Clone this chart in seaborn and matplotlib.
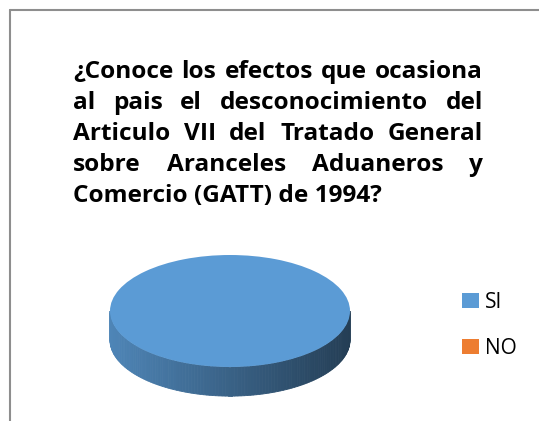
import numpy as np
import matplotlib
matplotlib.use('Agg')
import matplotlib.pyplot as plt
import seaborn as sns
from matplotlib.lines import Line2D

# Datos
categorias = ['SI', 'NO']
valores = [100, 0]
colores = ['#5B9BD5', '#ED7D31']

titulo_lineas = [
    '¿Conoce los efectos que ocasiona',
    'al pais el desconocimiento del',
    'Articulo VII del Tratado General',
    'sobre Aranceles Aduaneros y',
    'Comercio (GATT) de 1994?',
]

sns.set_style('white')
plt.rcParams['font.family'] = ['Open Sans', 'DejaVu Sans']
plt.rcParams['text.color'] = 'black'

W, H = 539, 421
fig = plt.figure(figsize=(W / 100, H / 100), dpi=100)
fig.patch.set_facecolor('white')

# Borde del gráfico (arriba e izquierda)
borde = dict(color='#8E8E8E', lw=1.5, transform=fig.transFigure)
fig.add_artist(Line2D([10 / W, 1], [1 - 9.5 / H, 1 - 9.5 / H], **borde))
fig.add_artist(Line2D([10 / W, 10 / W], [0, 1 - 9.5 / H], **borde))

# Título justificado
renderer = fig.canvas.get_renderer()
x_izq, x_der = 73, 483
y_base = [78, 109, 140, 171, 202]
tam = 17.6


def ancho(txt, size):
    t = fig.text(0, 0, txt, fontsize=size, fontweight='bold')
    w = t.get_window_extent(renderer).width
    t.remove()
    return w


for i, linea in enumerate(titulo_lineas):
    y = 1 - y_base[i] / H
    palabras = linea.split(' ')
    if i == len(titulo_lineas) - 1:
        fig.text(x_izq / W, y, linea, fontsize=tam, fontweight='bold',
                 va='baseline', ha='left')
        continue
    anchos = [ancho(p, tam) for p in palabras]
    hueco = (x_der - x_izq - sum(anchos)) / (len(palabras) - 1)
    x = x_izq
    for p, w in zip(palabras, anchos):
        fig.text(x / W, y, p, fontsize=tam, fontweight='bold',
                 va='baseline', ha='left')
        x += w + hueco

# Gráfico circular 3D
cx, cy = 230, 421 - 311
rx, ry, prof = 120, 56, 0.52
ax = fig.add_axes([(cx - 1.1 * rx) / W, (cy - 1.6 * ry) / H,
                   2.2 * rx / W, 2.7 * ry / H])
cunas, _ = ax.pie(valores, colors=colores, startangle=90, counterclock=False,
                  radius=1, wedgeprops=dict(linewidth=0))
ax.set_aspect('auto')
ax.set_xlim(-1.1, 1.1)
ax.set_ylim(-1.6, 1.1)
ax.axis('off')

# lateral del cilindro con degradado
for cuna, color in zip(cunas, colores):
    if abs(cuna.theta2 - cuna.theta1) >= 359.999:
        t1, t2 = 180, 360
    else:
        t1, t2 = sorted([cuna.theta1 % 360, cuna.theta2 % 360])
    a, b = max(t1, 180), min(t2, 360)
    if b <= a:
        continue
    base = np.array(matplotlib.colors.to_rgb(color))
    ts = np.linspace(np.radians(a), np.radians(b), 120)
    for ta, tb in zip(ts[:-1], ts[1:]):
        xm = (np.cos(ta) + np.cos(tb)) / 2
        f = 0.63 - 0.23 * xm
        c = base * f
        xs = [np.cos(ta), np.cos(tb), np.cos(tb), np.cos(ta)]
        ys = [np.sin(ta), np.sin(tb), np.sin(tb) - prof, np.sin(ta) - prof]
        ax.fill(xs, ys, color=c, lw=0.6, zorder=0)

# Leyenda
fig.legend(cunas, categorias, loc='upper left',
           bbox_to_anchor=(462 / W, 1 - 292 / H), frameon=False,
           fontsize=15, handlelength=0.8, handleheight=0.75,
           handletextpad=0.3, labelspacing=1.2, borderpad=0,
           borderaxespad=0)

fig.savefig('out.png', dpi=100)
